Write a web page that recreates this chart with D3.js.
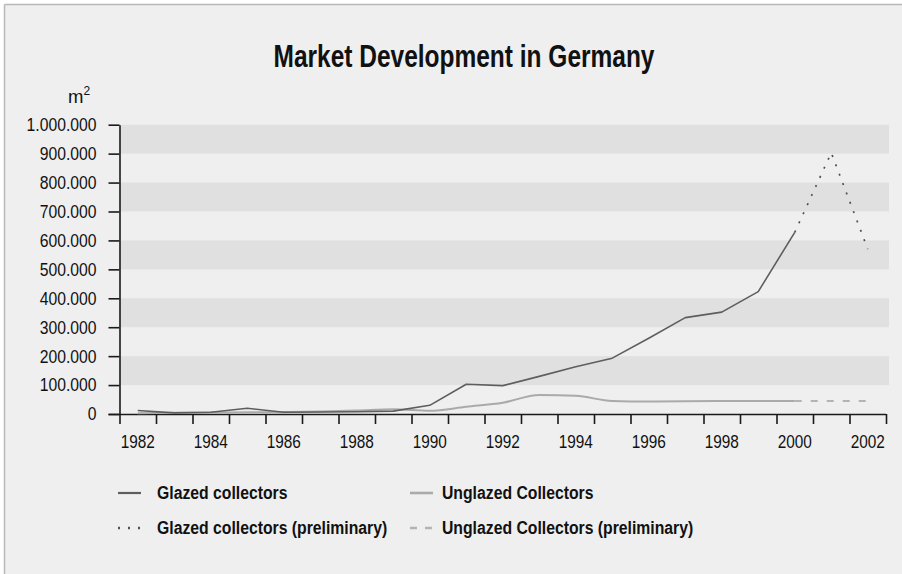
<!DOCTYPE html>
<html>
<head>
<meta charset="utf-8">
<script src="https://cdn.jsdelivr.net/npm/d3@7/dist/d3.min.js"></script>
<style>
  html, body { margin: 0; padding: 0; background: #ffffff; }
  svg text { font-family: "Liberation Sans", Arial, Helvetica, sans-serif; fill: #111; }
</style>
</head>
<body>
<svg id="chart" width="902" height="574"></svg>
<script>
// Collector area installed per year in Germany (m²)
const years = [1982, 1983, 1984, 1985, 1986, 1987, 1988, 1989, 1990, 1991, 1992,
               1993, 1994, 1995, 1996, 1997, 1998, 1999, 2000, 2001, 2002];
const yearLabels = [1982, 1984, 1986, 1988, 1990, 1992, 1994, 1996, 1998, 2000, 2002];

const glazedYears = [1982, 1983, 1984, 1985, 1986, 1987, 1988, 1989, 1990, 1991,
                     1992, 1993, 1994, 1995, 1996, 1997, 1998, 1999, 2000];
const glazed = [12000, 4000, 6000, 20000, 6000, 7000, 8000, 10000, 30000, 103000,
                98000, 130000, 163000, 193000, 262000, 333000, 352000, 423000, 628000];

const glazedPrelimYears = [2000, 2001, 2002];
const glazedPrelim = [628000, 903000, 570000];

const unglazedYears = glazedYears;
const unglazed = [3000, 4000, 5000, 6000, 7000, 9000, 12000, 16000, 11000, 25000,
                  39000, 66000, 63000, 45000, 43000, 44000, 45000, 45000, 45000];

const unglazedPrelimYears = [2000, 2001, 2002];
const unglazedPrelim = [45000, 45000, 45000];

const yTicks = [0, 100000, 200000, 300000, 400000, 500000, 600000, 700000, 800000, 900000, 1000000];

const legendItems = [
  { label: "Glazed collectors", kind: "glazed" },
  { label: "Unglazed Collectors", kind: "unglazed" },
  { label: "Glazed collectors (preliminary)", kind: "glazedPrelim" },
  { label: "Unglazed Collectors (preliminary)", kind: "unglazedPrelim" }
];

const styles = {
  glazed:         { stroke: "#5e5e5e", width: 1.6, dash: null },
  unglazed:       { stroke: "#aaaaaa", width: 2,   dash: null },
  glazedPrelim:   { stroke: "#505050", width: 1.7, dash: "2,8" },
  unglazedPrelim: { stroke: "#b4b4b4", width: 2,   dash: "7,9" }
};

// narrow the running text to a condensed look
function condense(sel, factor) {
  sel.each(function () {
    const w = this.getComputedTextLength();
    d3.select(this).attr("textLength", w * factor).attr("lengthAdjust", "spacingAndGlyphs");
  });
}

const svg = d3.select("#chart");
const W = 902, H = 574;

// panel background with thin frame on the top and left
svg.append("rect").attr("x", 5).attr("y", 5).attr("width", W - 5).attr("height", H - 5).attr("fill", "#efefef");
svg.append("line").attr("x1", 4.5).attr("x2", 4.5).attr("y1", 4.5).attr("y2", H).attr("stroke", "#b8b8b8").attr("stroke-width", 1.5);
svg.append("line").attr("x1", 4.5).attr("x2", W).attr("y1", 4.5).attr("y2", 4.5).attr("stroke", "#b8b8b8").attr("stroke-width", 1.5);

const de = d3.formatLocale({ decimal: ",", thousands: ".", grouping: [3], currency: ["", " €"] });
const fmt = de.format(",d");

const plotLeft = 119.5, plotRight = 886, plotTop = 124.7, plotBottom = 414;

const x = d3.scaleBand().domain(years).range([plotLeft, plotRight]).padding(0);
const xc = d => x(d) + x.bandwidth() / 2;
const y = d3.scaleLinear().domain([0, 1000000]).range([plotBottom, plotTop]);

// alternating grey stripes
const stripes = yTicks.slice(1).filter((d, i) => i % 2 === 0);
svg.append("g").selectAll("rect").data(stripes).join("rect")
  .attr("x", plotLeft + 0.5)
  .attr("width", 888.5 - plotLeft)
  .attr("y", d => y(d + 100000))
  .attr("height", d => y(d) - y(d + 100000))
  .attr("fill", "#e0e0e0");

// title
const title = svg.append("text")
  .attr("x", 464).attr("y", 67)
  .attr("text-anchor", "middle")
  .style("font-size", "31px").style("font-weight", "bold")
  .text("Market Development in Germany");
title.attr("textLength", 381).attr("lengthAdjust", "spacingAndGlyphs");

// unit label
const unit = svg.append("text").attr("x", 68).attr("y", 103).style("font-size", "18.5px");
unit.append("tspan").text("m");
unit.append("tspan").attr("dy", -8).style("font-size", "12px").text("2");

// y axis
const yAxis = svg.append("g").attr("transform", `translate(${plotLeft},0)`)
  .call(d3.axisLeft(y).tickValues(yTicks).tickSize(11).tickSizeOuter(0).tickPadding(12).tickFormat(fmt));
yAxis.attr("font-family", null);
yAxis.selectAll("text").style("font-size", "18.5px").attr("fill", "#111");
condense(yAxis.selectAll("text"), 0.85);

// x axis: ticks at year boundaries, labels centred in every second year
const edges = years.map(d => x(d)).concat([x(years[years.length - 1]) + x.bandwidth()]);
const xEdge = d3.scaleLinear().domain([plotLeft, plotRight]).range([plotLeft, plotRight]);
const xAxis = svg.append("g").attr("transform", `translate(0,${plotBottom})`)
  .call(d3.axisBottom(xEdge).tickValues(edges).tickSize(10).tickSizeOuter(0).tickFormat(""));
xAxis.select(".domain").attr("d", `M${plotLeft - 11},0.5H${plotRight}`);

const xLabels = svg.append("g").selectAll("text").data(yearLabels).join("text")
  .attr("x", d => xc(d))
  .attr("y", 448)
  .attr("text-anchor", "middle")
  .style("font-size", "18.5px")
  .text(d => d);
condense(xLabels, 0.83);

[yAxis, xAxis].forEach(g => {
  g.selectAll(".domain, .tick line").attr("stroke", "#1a1a1a").attr("stroke-width", 1.6);
});

// series lines
const series = [
  { kind: "unglazed",       xs: unglazedYears,       vs: unglazed,       curve: d3.curveMonotoneX },
  { kind: "unglazedPrelim", xs: unglazedPrelimYears, vs: unglazedPrelim, curve: d3.curveLinear },
  { kind: "glazed",         xs: glazedYears,         vs: glazed,         curve: d3.curveLinear },
  { kind: "glazedPrelim",   xs: glazedPrelimYears,   vs: glazedPrelim,   curve: d3.curveLinear }
];

series.forEach(s => {
  const pts = s.xs.map((yr, i) => [yr, s.vs[i]]);
  const line = d3.line().x(d => xc(d[0])).y(d => y(d[1])).curve(s.curve);
  const st = styles[s.kind];
  svg.append("path")
    .attr("d", line(pts))
    .attr("fill", "none")
    .attr("stroke", st.stroke)
    .attr("stroke-width", st.width)
    .attr("stroke-dasharray", st.dash)
    .attr("stroke-linejoin", "round");
});

// legend
const legendPos = [[118, 493], [410, 493], [118, 528], [410, 528]];
const lg = svg.append("g").selectAll("g").data(legendItems).join("g")
  .attr("transform", (d, i) => `translate(${legendPos[i][0]},${legendPos[i][1]})`);
lg.append("line")
  .attr("x1", 0).attr("x2", 23).attr("y1", 0).attr("y2", 0)
  .attr("stroke", d => styles[d.kind].stroke)
  .attr("stroke-width", d => styles[d.kind].width + 0.6)
  .attr("stroke-dasharray", d => d.kind === "glazedPrelim" ? "2,8" : d.kind === "unglazedPrelim" ? "7,8" : null);
const lgText = lg.append("text")
  .attr("x", (d, i) => i % 2 === 0 ? 39 : 32)
  .attr("y", 0)
  .attr("dy", "0.36em")
  .style("font-size", "17.5px").style("font-weight", "bold")
  .text(d => d.label);
condense(lgText, 0.9);
</script>
</body>
</html>
